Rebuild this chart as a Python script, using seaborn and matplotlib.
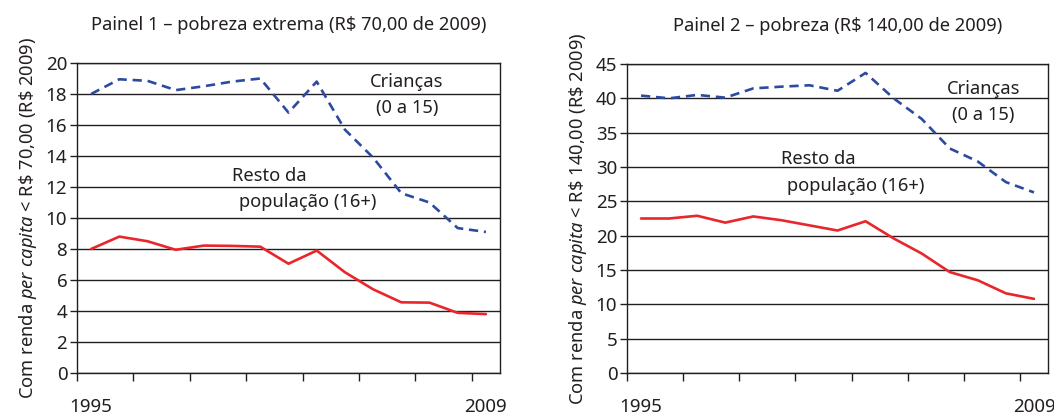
import matplotlib
matplotlib.use("Agg")
import matplotlib.pyplot as plt
import seaborn as sns
import pandas as pd

years = list(range(1995, 2010))

p1_criancas = [18.0, 18.95, 18.85, 18.25, 18.5, 18.8, 19.0, 16.8, 18.8, 15.7, 13.9, 11.6, 11.0, 9.35, 9.1]
p1_resto = [8.0, 8.8, 8.5, 7.95, 8.22, 8.2, 8.15, 7.05, 7.9, 6.5, 5.4, 4.56, 4.54, 3.88, 3.8]

p2_criancas = [40.4, 40.0, 40.5, 40.1, 41.45, 41.7, 41.9, 41.1, 43.7, 40.0, 37.0, 32.7, 30.8, 27.8, 26.3]
p2_resto = [22.5, 22.5, 22.9, 21.9, 22.8, 22.25, 21.5, 20.75, 22.1, 19.6, 17.4, 14.7, 13.5, 11.6, 10.8]

titles = ["Painel 1 \u2013 pobreza extrema (R$ 70,00 de 2009)",
          "Painel 2 \u2013 pobreza (R$ 140,00 de 2009)"]
ylabels = [r"Com renda $\mathit{per\ capita}$ < R\$ 70,00 (R\$ 2009)",
           r"Com renda $\mathit{per\ capita}$ < R\$ 140,00 (R\$ 2009)"]
label_criancas = ["Crian\u00e7as", "(0 a 15)"]
label_resto = ["Resto da", "popula\u00e7\u00e3o (16+)"]
xlabels = ["1995", "2009"]

sns.set_theme(style="white")
FONT = "Noto Sans"
plt.rcParams["font.family"] = [FONT, "DejaVu Sans"]
plt.rcParams["mathtext.fontset"] = "custom"
plt.rcParams["mathtext.rm"] = FONT
plt.rcParams["mathtext.it"] = FONT + ":italic"
plt.rcParams["text.color"] = "#231f20"

BLUE = "#2c4aa0"
RED = "#e8262b"
TXT = "#231f20"
FS_TICK = 13.5
FS_TXT = 13.2

fig = plt.figure(figsize=(10.54, 4.17), dpi=100)
ax1 = fig.add_axes([77/1054, 1-373/417, 423/1054, 310/417])
ax2 = fig.add_axes([627/1054, 1-373/417, 421/1054, 309/417])

configs = [
    (ax1, p1_criancas, p1_resto, 20, 2, (2006.2, 18.8, 17.1), (2000.0, 12.74), (2000.25, 11.04)),
    (ax2, p2_criancas, p2_resto, 45, 5, (2007.2, 41.3, 37.56), (2000.0, 31.15), (2000.2, 27.2)),
]

for i, (ax, cri, res, ymax, ystep, cpos, r1pos, r2pos) in enumerate(configs):
    df = pd.DataFrame({"ano": years, "criancas": cri, "resto": res})
    sns.lineplot(data=df, x="ano", y="criancas", ax=ax, color=BLUE, lw=1.9,
                 linestyle=(0, (3.5, 2.2)))
    sns.lineplot(data=df, x="ano", y="resto", ax=ax, color=RED, lw=1.9)
    ax.set_xlim(1994.5, 2009.5)
    ax.set_ylim(0, ymax)
    ax.set_yticks(range(0, ymax + 1, ystep))
    ax.yaxis.grid(True, color="#231f20", lw=1.0)
    ax.set_axisbelow(True)
    for s in ax.spines.values():
        s.set_color("#231f20")
        s.set_linewidth(1.0)
        s.set_visible(True)
    ax.set_xticks([1994.5 + 2 * k for k in range(8)])
    ax.set_xticklabels([])
    ax.set_xticks([1995, 2009], minor=True)
    ax.set_xticklabels(xlabels, minor=True)
    ax.tick_params(axis="x", which="major", direction="out", length=6, width=1.0,
                   color="#231f20", bottom=True)
    ax.tick_params(axis="x", which="minor", length=0, pad=18, labelsize=FS_TICK,
                   labelcolor=TXT)
    ax.tick_params(axis="y", direction="out", length=5, width=1.0, color="#231f20",
                   left=True, labelsize=FS_TICK, labelcolor=TXT, pad=2)
    ax.set_xlabel("")
    ax.set_ylabel(ylabels[i], fontsize=FS_TXT, color=TXT, labelpad=5)
    ax.set_title(titles[i], fontsize=FS_TXT, color=TXT, pad=24)
    ax.text(cpos[0], cpos[1], label_criancas[0], ha="center", va="center",
            fontsize=FS_TXT, color=TXT)
    ax.text(cpos[0], cpos[2], label_criancas[1], ha="center", va="center",
            fontsize=FS_TXT, color=TXT)
    ax.text(r1pos[0], r1pos[1], label_resto[0], ha="left", va="center",
            fontsize=FS_TXT, color=TXT)
    ax.text(r2pos[0], r2pos[1], label_resto[1], ha="left", va="center",
            fontsize=FS_TXT, color=TXT)

fig.savefig("out.png", dpi=100)
